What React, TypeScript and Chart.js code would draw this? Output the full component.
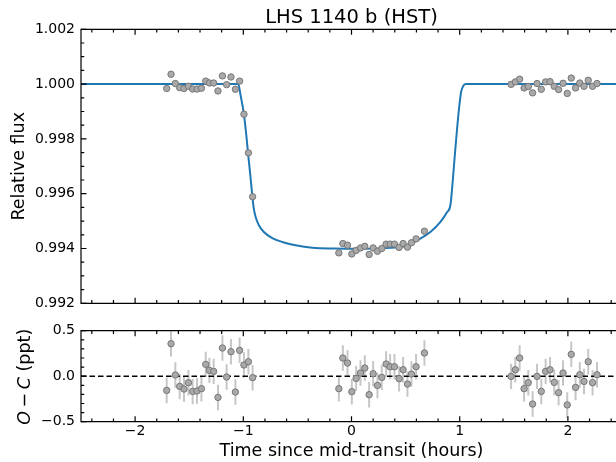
import { useEffect, useRef } from "react";
import { Chart, registerables } from "chart.js";

Chart.register(...registerables);

const FONT = "'DejaVu Sans', 'Liberation Sans', sans-serif";

// ---------- axes ----------
const X_MIN = -2.5;
const X_MAX = 2.5;
const X_TICKS = [-2, -1, 0, 1, 2];
const X_MINOR_TICKS = [-2.4, -2.2, -1.8, -1.6, -1.4, -1.2, -0.8, -0.6, -0.4, -0.2, 0.2, 0.4, 0.6, 0.8, 1.2, 1.4, 1.6, 1.8, 2.2, 2.4];
const FLUX_MIN = 0.992;
const FLUX_MAX = 1.002;
const FLUX_TICKS = [0.992, 0.994, 0.996, 0.998, 1.0, 1.002];
const FLUX_MINOR_TICKS = [0.9925, 0.993, 0.9935, 0.9945, 0.995, 0.9955, 0.9965, 0.997, 0.9975, 0.9985, 0.999, 0.9995, 1.0005, 1.001, 1.0015];
const RESID_MIN = -0.5;
const RESID_MAX = 0.5;
const RESID_TICKS = [-0.5, 0, 0.5];
const RESID_MINOR_TICKS = [-0.4, -0.3, -0.2, -0.1, 0.1, 0.2, 0.3, 0.4];

const TITLE = "LHS 1140 b (HST)";
const X_LABEL = "Time since mid-transit (hours)";
const FLUX_LABEL = "Relative flux";
const RESID_LABEL_PARTS = [
  { text: "O", italic: true },
  { text: "\u2212", italic: false },
  { text: "C", italic: true },
  { text: " (ppt)", italic: false },
];

// ---------- data ----------
const TIME = [
  -1.708, -1.668, -1.628, -1.588, -1.548, -1.507, -1.468, -1.428, -1.387, -1.347, -1.313,
  -1.274, -1.234, -1.193, -1.154, -1.114, -1.073, -1.034, -0.994, -0.953, -0.914,
  -0.117, -0.080, -0.037, 0.003, 0.043, 0.083, 0.123, 0.163, 0.200, 0.240,
  0.280, 0.320, 0.357, 0.397, 0.440, 0.477, 0.517, 0.554, 0.597, 0.674,
  1.475, 1.514, 1.554, 1.595, 1.634, 1.674, 1.715, 1.754, 1.794, 1.835, 1.874,
  1.914, 1.955, 1.994, 2.031, 2.071, 2.110, 2.149, 2.188, 2.228, 2.269,
];

const FLUX = [
  0.99984, 1.00036, 1.00002, 0.99987, 0.99984, 0.99992, 0.99982, 0.99982, 0.99985, 1.00011, 1.00004,
  1.00004, 0.99975, 1.0003, 0.99998, 1.00026, 0.99981, 1.00011, 0.9989, 0.99749, 0.99589,
  0.99384, 0.99418, 0.99412, 0.9938, 0.99393, 0.99402, 0.99408, 0.99378, 0.99402, 0.9939,
  0.994, 0.99416, 0.99416, 0.99416, 0.99404, 0.99418, 0.99405, 0.99421, 0.99435, 0.99463,
  0.99999, 1.00008, 1.00018, 0.99986, 0.99991, 0.99968, 1.00002, 0.99981, 1.00008, 1.00009, 0.99992,
  0.9998, 1.00003, 0.99966, 1.00022, 0.99986, 1.00004, 0.99992, 1.00014, 0.99992, 1.00002,
];

const RESID = [
  -0.156, 0.357, 0.013, -0.112, -0.141, -0.071, -0.167, -0.163, -0.137, 0.13, 0.064,
  0.053, -0.233, 0.31, -0.009, 0.269, -0.174, 0.284, 0.123, 0.159, -0.016,
  -0.137, 0.2, 0.145, -0.17, -0.024, 0.035, 0.09, -0.203, 0.027, -0.101,
  -0.013, 0.134, 0.104, 0.104, -0.027, 0.071, -0.086, 0.024, 0.104, 0.255,
  -0.002, 0.071, 0.2, -0.137, -0.071, -0.306, -0.002, -0.167, 0.053, 0.071, -0.068,
  -0.181, 0.035, -0.316, 0.24, -0.123, 0.016, -0.057, 0.159, -0.071, 0.016,
];

const RESID_ERR = [
  0.14, 0.14, 0.14, 0.14, 0.14, 0.14, 0.14, 0.14, 0.14, 0.14, 0.14,
  0.14, 0.14, 0.14, 0.14, 0.14, 0.14, 0.14, 0.14, 0.14, 0.14,
  0.14, 0.14, 0.14, 0.14, 0.14, 0.14, 0.14, 0.14, 0.14, 0.14,
  0.14, 0.14, 0.14, 0.14, 0.14, 0.14, 0.14, 0.14, 0.14, 0.14,
  0.14, 0.14, 0.14, 0.14, 0.14, 0.14, 0.14, 0.14, 0.14, 0.14, 0.14,
  0.14, 0.14, 0.14, 0.14, 0.14, 0.14, 0.14, 0.14, 0.14, 0.14,
];

const MODEL_TIME = [
  -2.5, -1.046, -1.025, -0.994, -0.972, -0.954, -0.935, -0.917, -0.905, -0.886, -0.856,
  -0.81, -0.732, -0.64, -0.517, -0.363, -0.148, 0.0, 0.452, 0.545, 0.637, 0.729,
  0.822, 0.884, 0.914, 0.93, 0.945, 0.96, 0.976, 0.994, 1.013, 1.037, 1.055, 2.5,
];
const MODEL_FLUX = [
  1.0, 1.0, 0.99959, 0.99889, 0.99813, 0.9974, 0.99667, 0.99594, 0.99551, 0.99515, 0.99485,
  0.9946, 0.99438, 0.99424, 0.99412, 0.99403, 0.994, 0.99399, 0.99405, 0.99418, 0.99436, 0.9946,
  0.99497, 0.99533, 0.99558, 0.99619, 0.99692, 0.99765, 0.99838, 0.99911, 0.99971, 0.99996, 1.0, 1.0,
];

const ZERO_TIME = [-2.5, 2.5];
const ZERO_VALUE = [0, 0];

// ---------- styles ----------
const MODEL_COLOR = "#1f77b4";
const POINT_FILL = "#a9a9a9";
const POINT_EDGE = "#767676";
const ERR_COLOR = "#c6c6c6";
const TICK_FONT = { family: FONT, size: 14 };
const LABEL_SIZE = 17.5;

const fmtMinus = (s: string) => s.replace("-", "\u2212");

function makeFramePlugin(xMajor: number[], xMinor: number[], yMajor: number[], yMinor: number[]) {
  return {
    id: "frameTicks",
    afterDatasetsDraw(chart: any) {
      const { ctx, chartArea: a, scales } = chart;
      const xs = scales.x;
      const ys = scales.y;
      const MAJ = 5.5;
      const MIN = 3.2;
      ctx.save();
      ctx.strokeStyle = "#000";
      ctx.lineWidth = 1.2;
      ctx.beginPath();
      ctx.rect(a.left, a.top, a.right - a.left, a.bottom - a.top);
      ctx.stroke();
      ctx.beginPath();
      const vx = (vals: number[], len: number) => {
        for (const v of vals) {
          const p = xs.getPixelForValue(v);
          ctx.moveTo(p, a.bottom);
          ctx.lineTo(p, a.bottom - len);
          ctx.moveTo(p, a.top);
          ctx.lineTo(p, a.top + len);
        }
      };
      const vy = (vals: number[], len: number) => {
        for (const v of vals) {
          const p = ys.getPixelForValue(v);
          ctx.moveTo(a.left, p);
          ctx.lineTo(a.left + len, p);
          ctx.moveTo(a.right, p);
          ctx.lineTo(a.right - len, p);
        }
      };
      vx(xMajor, MAJ);
      vx(xMinor, MIN);
      vy(yMajor, MAJ);
      vy(yMinor, MIN);
      ctx.stroke();
      ctx.restore();
    },
  };
}

const errorBarPlugin = {
  id: "errorBars",
  beforeDatasetsDraw(chart: any) {
    const { ctx, chartArea: a, scales } = chart;
    ctx.save();
    ctx.beginPath();
    ctx.rect(a.left, a.top, a.right - a.left, a.bottom - a.top);
    ctx.clip();
    ctx.strokeStyle = ERR_COLOR;
    ctx.lineWidth = 2;
    ctx.beginPath();
    TIME.forEach((t, i) => {
      const px = scales.x.getPixelForValue(t);
      ctx.moveTo(px, scales.y.getPixelForValue(RESID[i] - RESID_ERR[i]));
      ctx.lineTo(px, scales.y.getPixelForValue(RESID[i] + RESID_ERR[i]));
    });
    ctx.stroke();
    ctx.restore();
  },
};

const residTitlePlugin = {
  id: "residTitle",
  afterDraw(chart: any) {
    const { ctx, chartArea: a } = chart;
    const size = LABEL_SIZE;
    const gap = 0.2 * size;
    ctx.save();
    ctx.translate(25, (a.top + a.bottom) / 2 + 0.5);
    ctx.rotate(-Math.PI / 2);
    ctx.fillStyle = "#000";
    ctx.textBaseline = "middle";
    ctx.textAlign = "left";
    const fonts = RESID_LABEL_PARTS.map((p) => `${p.italic ? "italic " : ""}${size}px ${FONT}`);
    const widths = RESID_LABEL_PARTS.map((p, i) => {
      ctx.font = fonts[i];
      return ctx.measureText(p.text).width;
    });
    const total = widths.reduce((s, w) => s + w, 0) + 2 * gap;
    let x = -total / 2;
    RESID_LABEL_PARTS.forEach((p, i) => {
      ctx.font = fonts[i];
      ctx.fillText(p.text, x, 0);
      x += widths[i];
      if (i === 0 || i === 1) x += gap;
    });
    ctx.restore();
  },
};

const pointStyle = {
  showLine: false,
  pointRadius: 3.2,
  pointBorderWidth: 1,
  pointBackgroundColor: POINT_FILL,
  pointBorderColor: POINT_EDGE,
  order: 0,
};

const fitY = (s: any) => {
  s.width = 81;
  s.paddingTop = 0;
  s.paddingBottom = 0;
};

export default function App() {
  const topRef = useRef<HTMLCanvasElement>(null);
  const botRef = useRef<HTMLCanvasElement>(null);

  useEffect(() => {
    const top = new Chart(topRef.current as HTMLCanvasElement, {
      type: "line",
      data: {
        datasets: [
          {
            ...pointStyle,
            data: TIME.map((t, i) => ({ x: t, y: FLUX[i] })),
          } as any,
          {
            data: MODEL_TIME.map((t, i) => ({ x: t, y: MODEL_FLUX[i] })),
            borderColor: MODEL_COLOR,
            borderWidth: 2,
            pointRadius: 0,
            cubicInterpolationMode: "monotone",
            fill: false,
            order: 1,
          },
        ],
      },
      options: {
        animation: false,
        responsive: false,
        maintainAspectRatio: false,
        events: [],
        layout: { padding: { left: 0, right: 18, top: 0, bottom: 6.7 } },
        plugins: {
          legend: { display: false },
          tooltip: { enabled: false },
          title: {
            display: true,
            text: TITLE,
            fullSize: false,
            color: "#000",
            font: { family: FONT, size: 19.5, weight: "normal", lineHeight: 1 },
            padding: { top: 8.3, bottom: 1.5 },
          },
        },
        scales: {
          x: { type: "linear", min: X_MIN, max: X_MAX, display: false },
          y: {
            type: "linear",
            min: FLUX_MIN,
            max: FLUX_MAX,
            afterBuildTicks: (s: any) => {
              s.ticks = FLUX_TICKS.map((v) => ({ value: v }));
            },
            afterFit: fitY,
            grid: { display: false, drawTicks: false },
            border: { display: false },
            ticks: {
              padding: 6,
              color: "#000",
              font: TICK_FONT,
              callback: (v: any) => Number(v).toFixed(3),
            },
            title: {
              display: true,
              text: FLUX_LABEL,
              color: "#000",
              font: { family: FONT, size: LABEL_SIZE, lineHeight: 1.2 },
              padding: { top: 9, bottom: 0 },
            },
          },
        },
      },
      plugins: [makeFramePlugin(X_TICKS, X_MINOR_TICKS, FLUX_TICKS, FLUX_MINOR_TICKS)],
    } as any);

    const bot = new Chart(botRef.current as HTMLCanvasElement, {
      type: "line",
      data: {
        datasets: [
          {
            ...pointStyle,
            data: TIME.map((t, i) => ({ x: t, y: RESID[i] })),
          } as any,
          {
            data: ZERO_TIME.map((t, i) => ({ x: t, y: ZERO_VALUE[i] })),
            borderColor: "#000",
            borderWidth: 1.5,
            borderDash: [5.5, 3],
            pointRadius: 0,
            fill: false,
            order: 1,
          },
        ],
      },
      options: {
        animation: false,
        responsive: false,
        maintainAspectRatio: false,
        events: [],
        layout: { padding: { left: 0, right: 18, top: 20.7, bottom: 0 } },
        plugins: {
          legend: { display: false },
          tooltip: { enabled: false },
        },
        scales: {
          x: {
            type: "linear",
            min: X_MIN,
            max: X_MAX,
            afterBuildTicks: (s: any) => {
              s.ticks = X_TICKS.map((v) => ({ value: v }));
            },
            afterFit: (s: any) => {
              s.height = 40.3;
            },
            grid: { display: false, drawTicks: false },
            border: { display: false },
            ticks: {
              padding: 1.6,
              color: "#000",
              font: TICK_FONT,
              maxRotation: 0,
              callback: (v: any) => fmtMinus(String(Number(v))),
            },
            title: {
              display: true,
              text: X_LABEL,
              color: "#000",
              font: { family: FONT, size: LABEL_SIZE, lineHeight: 1.2 },
              padding: { top: 0, bottom: 0 },
            },
          },
          y: {
            type: "linear",
            min: RESID_MIN,
            max: RESID_MAX,
            afterBuildTicks: (s: any) => {
              s.ticks = RESID_TICKS.map((v) => ({ value: v }));
            },
            afterFit: fitY,
            grid: { display: false, drawTicks: false },
            border: { display: false },
            ticks: {
              padding: 6,
              color: "#000",
              font: TICK_FONT,
              callback: (v: any) => fmtMinus(Number(v).toFixed(1)),
            },
          },
        },
      },
      plugins: [
        errorBarPlugin,
        makeFramePlugin(X_TICKS, X_MINOR_TICKS, RESID_TICKS, RESID_MINOR_TICKS),
        residTitlePlugin,
      ],
    } as any);

    return () => {
      top.destroy();
      bot.destroy();
    };
  }, []);

  return (
    <div
      style={{
        position: "fixed",
        left: 0,
        top: 0,
        width: 616,
        height: 462,
        overflow: "hidden",
        background: "#fff",
      }}
    >
      <canvas
        ref={topRef}
        width={640}
        height={310}
        style={{ position: "absolute", left: 0, top: 0, width: 640, height: 310 }}
      />
      <canvas
        ref={botRef}
        width={640}
        height={152}
        style={{ position: "absolute", left: 0, top: 310, width: 640, height: 152 }}
      />
    </div>
  );
}
